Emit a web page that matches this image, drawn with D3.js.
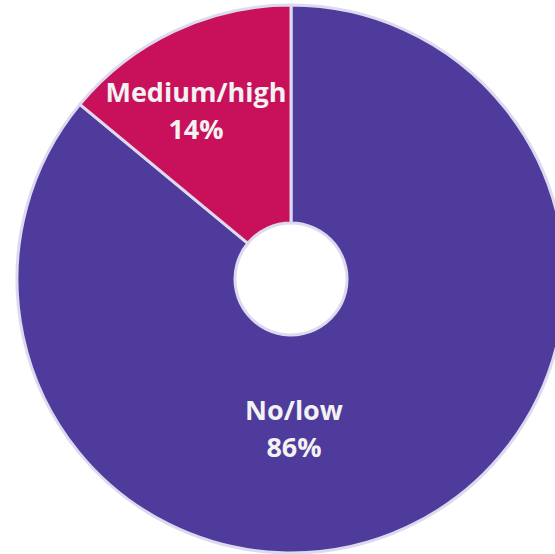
<!DOCTYPE html>
<html><head><meta charset="utf-8">
<script src="https://cdn.jsdelivr.net/npm/d3@7"></script>
<style>body{margin:0;background:#fff;overflow:hidden}</style>
</head><body>
<svg id="c" width="555" height="554"></svg>
<script>
const categories = ["No/low", "Medium/high"];
const values = [86, 14];
const labels = ["86%", "14%"];
const colors = ["#4f3b9c", "#c8115a"];

const svg = d3.select("#c");
const cx = 291, cy = 279, R = 274, r0 = 56;
const g = svg.append("g").attr("transform", `translate(${cx},${cy})`);
const data = categories.map((c, i) => ({cat: c, v: values[i], lab: labels[i], col: colors[i]}));
const pie = d3.pie().sort(null).value(d => d.v);
const arcs = pie(data);
const arc = d3.arc().innerRadius(r0).outerRadius(R);
g.selectAll("path").data(arcs).join("path")
  .attr("d", arc).attr("fill", d => d.data.col)
  .attr("stroke", "#dddaf0").attr("stroke-width", 3).attr("stroke-linejoin", "round");

const labelPos = [[3, 141], [-95, -177]];
arcs.forEach((a, i) => {
  const t = g.append("text").attr("text-anchor", "middle")
    .attr("font-family", "'Open Sans', sans-serif").attr("font-weight", "bold")
    .attr("font-size", 27).attr("fill", "#f2f2f2");
  t.append("tspan").attr("x", labelPos[i][0]).attr("y", labelPos[i][1]).text(a.data.cat);
  t.append("tspan").attr("x", labelPos[i][0]).attr("y", labelPos[i][1] + 37).text(a.data.lab);
});
</script>
</body></html>
